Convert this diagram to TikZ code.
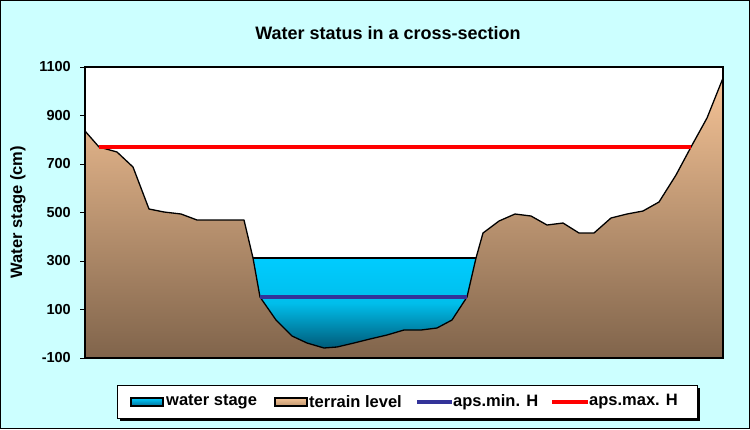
\documentclass[tikz,border=0pt]{standalone}
\usepackage{fontspec}
\setmainfont{Liberation Sans}
\definecolor{bgc}{RGB}{204,255,255}
\definecolor{minc}{RGB}{51,51,153}
\definecolor{tertop}{RGB}{245,195,150}
\definecolor{terbot}{RGB}{128,100,75}
\definecolor{wtop}{RGB}{0,204,255}
\definecolor{wmid}{RGB}{0,190,235}
\definecolor{wbot}{RGB}{0,90,120}
\definecolor{lwbot}{RGB}{0,110,150}
\definecolor{ltbot}{RGB}{190,150,110}
\begin{document}
\begin{tikzpicture}[x=1pt,y=-1pt,
  lbl/.style={font=\fontsize{16.5}{18}\selectfont\bfseries, inner sep=0pt},
  axl/.style={font=\fontsize{14.5}{16}\selectfont\bfseries, inner sep=0pt},
  tick/.style={line width=0.8pt}]
\useasboundingbox (0,0) rectangle (750,429);
\fill[bgc] (0,0) rectangle (750,429);
\draw[line width=1pt] (0.5,0.5) rectangle (749.5,428.5);
\node[font=\fontsize{18}{20}\selectfont\bfseries, inner sep=0pt] (title) at (388,33) {Water status in a cross-section};
\fill[white] (85,67) rectangle (723,358);
\path[top color=tertop, bottom color=terbot]
 (85,358) -- (85,131) -- (99,147) -- (117,152) -- (133,167) -- (149,209) -- (164,212) -- (181,214) -- (197,220) -- (244,220)
 -- (253,258) -- (260,297) -- (276,320) -- (292,336) -- (307,343) -- (324,348) -- (337,347) -- (354,343) -- (370,339)
 -- (387,335) -- (404,330) -- (421,330) -- (437,328) -- (452,320) -- (467,297) -- (476,258) -- (483,233) -- (499,221)
 -- (515,214) -- (531,216) -- (547,225) -- (563,223) -- (579,233) -- (594,233) -- (611,218) -- (627,214) -- (643,211)
 -- (659,202) -- (676,175) -- (691,147) -- (707,118) -- (723,78) -- (723,358) -- cycle;
\path[top color=wtop, bottom color=wbot, middle color=wmid]
 (253,258) -- (260,297) -- (276,320) -- (292,336) -- (307,343) -- (324,348) -- (337,347) -- (354,343) -- (370,339)
 -- (387,335) -- (404,330) -- (421,330) -- (437,328) -- (452,320) -- (467,297) -- (476,258) -- cycle;
\draw[line width=2pt] (253,258) -- (476,258);
\draw[line width=1.3pt, line join=round]
 (85,131) -- (99,147) -- (117,152) -- (133,167) -- (149,209) -- (164,212) -- (181,214) -- (197,220) -- (244,220)
 -- (253,258) -- (260,297) -- (276,320) -- (292,336) -- (307,343) -- (324,348) -- (337,347) -- (354,343) -- (370,339)
 -- (387,335) -- (404,330) -- (421,330) -- (437,328) -- (452,320) -- (467,297) -- (476,258) -- (483,233) -- (499,221)
 -- (515,214) -- (531,216) -- (547,225) -- (563,223) -- (579,233) -- (594,233) -- (611,218) -- (627,214) -- (643,211)
 -- (659,202) -- (676,175) -- (691,147) -- (707,118) -- (723,78);
\draw[line width=3.5pt, minc] (260,297) -- (467,297);
\draw[line width=3.5pt, red] (99,147) -- (691,147);
\draw[line width=1.3pt] (85,67) rectangle (723,358);
\foreach \v/\yy in {1100/67,900/115.5,700/164,500/212.5,300/261,100/309.5,-100/358}{
  \draw[tick] (80,\yy) -- (85,\yy);
  \node[axl, anchor=east] (y\v) at (71,\yy) {\v};
}
\node[lbl, rotate=90] (ylab) at (18,212) {Water stage (cm)};
\fill[black] (120,388) rectangle (700,421);
\draw[fill=white, line width=1pt] (117,385) rectangle (697,418);
\draw[line width=1.5pt, top color=wtop, bottom color=lwbot] (131,398) rectangle (163,406);
\node[lbl, anchor=west] (l1) at (166,402) {water stage};
\draw[line width=1.5pt, top color=tertop, bottom color=ltbot] (275,398) rectangle (307,406);
\node[lbl, anchor=west] (l2) at (309,402) {terrain level};
\draw[line width=3.5pt, minc] (417,402) -- (452,402);
\node[lbl, anchor=west] (l3) at (453,402) {aps.min. H};
\draw[line width=3.5pt, red] (552,402) -- (588,402);
\node[lbl, anchor=west] (l4) at (589,402) {aps.max. H};
\end{tikzpicture}
\end{document}
